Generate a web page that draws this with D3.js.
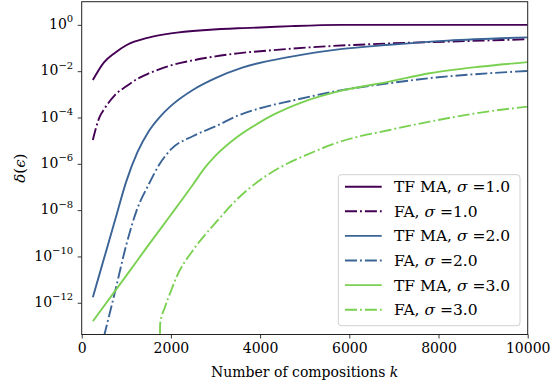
<!DOCTYPE html>
<html>
<head>
<meta charset="utf-8">
<script src="https://cdn.jsdelivr.net/npm/d3@7"></script>
<style>
  body { margin: 0; background: #fff; }
  svg { display: block; font-family: "DejaVu Serif", serif; }
</style>
</head>
<body>
<svg id="chart" width="552" height="385"></svg>
<script>
// values, delta given as log10
const tfma1K = [250, 500, 750, 1000, 1500, 2000, 2800, 3500, 4000, 4700, 5800, 10000];
const tfma1Log = [-2.38, -1.62, -1.2, -0.88, -0.55, -0.37, -0.22, -0.145, -0.115, -0.055, 0, 0];

const fa1K = [250, 400, 500, 750, 1000, 1250, 1500, 1750, 2000, 2500, 3000, 3500, 4500, 5200, 6800, 9000, 10000];
const fa1Log = [-4.97, -3.98, -3.65, -3.02, -2.65, -2.33, -2.1, -1.91, -1.75, -1.53, -1.36, -1.23, -1.06, -0.96, -0.81, -0.68, -0.62];

const tfma2K = [250, 500, 750, 1000, 1250, 1500, 1750, 2000, 2500, 3000, 3600, 4700, 5800, 6900, 8200, 10000];
const tfma2Log = [-11.76, -10.09, -8.42, -6.76, -5.5, -4.6, -3.98, -3.5, -2.8, -2.3, -1.85, -1.37, -1.05, -0.86, -0.68, -0.54];

const fa2K = [500, 750, 1000, 1250, 1500, 1750, 2000, 2500, 3000, 3500, 4000, 4700, 5800, 6900, 7800, 8900, 10000];
const fa2Log = [-13.45, -11.5, -9.5, -7.92, -6.9, -6.0, -5.38, -4.8, -4.38, -3.92, -3.6, -3.28, -2.83, -2.52, -2.3, -2.12, -1.99];

const tfma3K = [250, 1000, 1500, 2000, 2500, 2750, 3000, 3500, 4000, 4300, 5000, 5800, 6900, 7800, 8900, 10000];
const tfma3Log = [-12.8, -10.83, -9.5, -8.2, -6.88, -6.2, -5.65, -4.82, -4.2, -3.88, -3.3, -2.85, -2.45, -2.09, -1.81, -1.61];

const fa3K = [1750, 1760, 1870, 2000, 2130, 2500, 3000, 3500, 4000, 4500, 5000, 5800, 6900, 7800, 8900, 10000];
const fa3Log = [-14.2, -12.9, -12.17, -11.5, -10.87, -9.72, -8.55, -7.5, -6.7, -6.1, -5.65, -5.04, -4.54, -4.18, -3.8, -3.53];

const xTicks = [0, 2000, 4000, 6000, 8000, 10000];
const yTickExponents = [0, -2, -4, -6, -8, -10, -12];

const series = [
    { label: "TF MA", sigma: "1.0", k: tfma1K, v: tfma1Log, color: "#440154", dashed: false },
    { label: "FA", sigma: "1.0", k: fa1K, v: fa1Log, color: "#440154", dashed: true },
    { label: "TF MA", sigma: "2.0", k: tfma2K, v: tfma2Log, color: "#3a6496", dashed: false },
    { label: "FA", sigma: "2.0", k: fa2K, v: fa2Log, color: "#3a6496", dashed: true },
    { label: "TF MA", sigma: "3.0", k: tfma3K, v: tfma3Log, color: "#7ad151", dashed: false },
    { label: "FA", sigma: "3.0", k: fa3K, v: fa3Log, color: "#7ad151", dashed: true }
];

const svg = d3.select("#chart");
const plotLeft = 81.7, plotRight = 527.7, plotTop = 1.7, plotBottom = 334.5;
const dashPattern = "12,3,1.9,3";

const x = d3.scaleLinear().domain([0, 10000]).range([plotLeft, plotRight]);
const y = d3.scaleLog().domain([Math.pow(10, -13.37), Math.pow(10, 1.0)]).range([plotBottom, plotTop]);

svg.append("defs").append("clipPath").attr("id", "plot-clip")
    .append("rect")
    .attr("x", plotLeft).attr("y", plotTop)
    .attr("width", plotRight - plotLeft).attr("height", plotBottom - plotTop);

const line = d3.line()
    .x(d => x(d[0]))
    .y(d => y(Math.pow(10, d[1])))
    .curve(d3.curveMonotoneX);

const plot = svg.append("g").attr("clip-path", "url(#plot-clip)");
series.forEach(s => {
    plot.append("path")
        .attr("d", line(s.k.map((k, i) => [k, s.v[i]])))
        .attr("fill", "none")
        .attr("stroke", s.color)
        .attr("stroke-width", 1.9)
        .attr("stroke-dasharray", s.dashed ? dashPattern : null);
});

// axes
const xAxis = svg.append("g")
    .attr("transform", `translate(0,${plotBottom})`)
    .call(d3.axisBottom(x).tickValues(xTicks).tickFormat(d3.format("d")).tickSize(4).tickPadding(5));
xAxis.select(".domain").remove();
xAxis.selectAll("text").attr("font-size", 14).attr("fill", "#000")
    .attr("font-family", "DejaVu Serif");
xAxis.selectAll("line").attr("stroke", "#222").attr("stroke-width", 0.9);

const yAxis = svg.append("g")
    .attr("transform", `translate(${plotLeft},0)`)
    .call(d3.axisLeft(y).tickValues(yTickExponents.map(e => Math.pow(10, e))).tickFormat("").tickSize(4));
yAxis.select(".domain").remove();
yAxis.selectAll("line").attr("stroke", "#222").attr("stroke-width", 0.9);
yAxis.selectAll(".tick").each(function(d) {
    const e = Math.round(Math.log10(d));
    const t = d3.select(this).select("text")
        .attr("x", -8.5).attr("dy", "0.36em")
        .attr("text-anchor", "end")
        .attr("fill", "#000")
        .attr("font-family", "DejaVu Serif");
    t.append("tspan").attr("font-size", 14).text("10");
    t.append("tspan").attr("font-size", 10).attr("dy", -6.5)
        .text(e < 0 ? "\u2212" + Math.abs(e) : String(e));
});

// frame
svg.append("rect")
    .attr("x", plotLeft).attr("y", plotTop)
    .attr("width", plotRight - plotLeft).attr("height", plotBottom - plotTop)
    .attr("fill", "none").attr("stroke", "#222").attr("stroke-width", 1);

// axis labels
const xl = svg.append("text")
    .attr("x", (plotLeft + plotRight) / 2).attr("y", 377)
    .attr("text-anchor", "middle").attr("font-size", 14);
xl.append("tspan").text("Number of compositions ");
xl.append("tspan").attr("font-style", "italic").text("k");

const yl = svg.append("text")
    .attr("transform", `translate(25,${(plotTop + plotBottom) / 2}) rotate(-90)`)
    .attr("text-anchor", "middle").attr("font-size", 15);
yl.append("tspan").attr("font-style", "italic").text("\u03b4");
yl.append("tspan").text("(");
yl.append("tspan").attr("font-style", "italic").text("\u03f5");
yl.append("tspan").text(")");

// legend
const legend = svg.append("g");
legend.append("rect")
    .attr("x", 338.3).attr("y", 174.7)
    .attr("width", 181.7).attr("height", 151)
    .attr("rx", 3)
    .attr("fill", "#fff").attr("fill-opacity", 0.8)
    .attr("stroke", "#d0d0d0").attr("stroke-width", 1);

series.forEach((s, i) => {
    const cy = 186.7 + i * 24.6;
    legend.append("line")
        .attr("x1", 345).attr("x2", 381.7)
        .attr("y1", cy).attr("y2", cy)
        .attr("stroke", s.color).attr("stroke-width", 1.9)
        .attr("stroke-dasharray", s.dashed ? dashPattern : null);
    const t = legend.append("text")
        .attr("x", 394).attr("y", cy + 5.4)
        .attr("font-size", 15.5);
    t.append("tspan").text(s.label + ", ");
    t.append("tspan").attr("font-style", "italic").text("\u03c3");
    t.append("tspan").text(" =" + s.sigma);
});
</script>
</body>
</html>
